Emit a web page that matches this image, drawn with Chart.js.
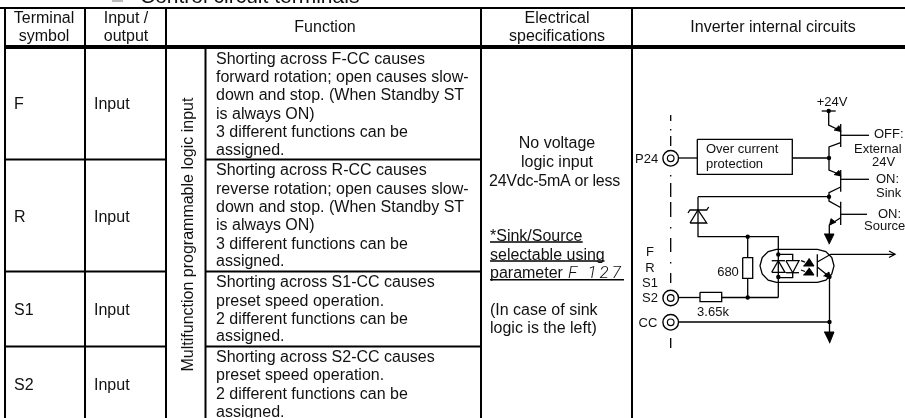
<!DOCTYPE html>
<html>
<head>
<meta charset="utf-8">
<title>Control circuit terminals</title>
<script src="https://cdn.jsdelivr.net/npm/chart.js@4/dist/chart.umd.min.js"></script>
<style>
  html, body { margin: 0; padding: 0; background: #fff; overflow: hidden; }
  canvas { display: block; }
</style>
</head>
<body>
<canvas id="chart" width="905" height="418"></canvas>
<script>
// table text
const headerLines = ['Terminal', 'symbol', 'Input /', 'output', 'Function', 'Electrical', 'specifications', 'Inverter internal circuits'];
const headerX = [44, 44, 126, 126, 325, 557, 557, 773];
const headerY = [23, 41, 23, 41, 32, 23, 41, 32];

const terminalSymbols = ['F', 'R', 'S1', 'S2'];
const directions = ['Input', 'Input', 'Input', 'Input'];
const rowBaselines = [109, 222, 315, 390];

const functionLines = [
    'Shorting across F-CC causes', 'forward rotation; open causes slow-', 'down and stop. (When Standby ST', 'is always ON)', '3 different functions can be', 'assigned.',
    'Shorting across R-CC causes', 'reverse rotation; open causes slow-', 'down and stop. (When Standby ST', 'is always ON)', '3 different functions can be', 'assigned.',
    'Shorting across S1-CC causes', 'preset speed operation.', '2 different functions can be', 'assigned.',
    'Shorting across S2-CC causes', 'preset speed operation.', '2 different functions can be', 'assigned.'
];
const functionBaselines = [64, 82, 100, 118.5, 137, 155, 175, 194, 212, 230, 249, 266, 287, 306, 324, 341, 362, 380, 399, 417];

const specCentered = ['No voltage', 'logic input', '24Vdc-5mA or less'];
const specCenteredX = [557, 557, 554.5];
const specCenteredY = [148, 167, 186];
const specLeft = ['*Sink/Source', 'selectable using', 'parameter', '(In case of sink', 'logic is the left)'];
const specLeftY = [241, 260, 278, 315, 333];

// circuit text
const circuitLabels = ['+24V', 'Over current', 'protection', 'OFF:', 'External', '24V', 'ON:', 'Sink', 'ON:', 'Source', 'P24', 'F', 'R', 'S1', 'S2', 'CC', '680', '3.65k'];
const circuitLabelX = [832, 706, 706, 874, 854, 872, 876, 876, 878, 864, 635, 650, 650, 650, 650, 648, 728, 713];
const circuitLabelY = [106, 153, 168, 138, 153, 166, 183, 197, 218, 230, 163, 256, 272, 287, 302, 327, 276, 316];
const circuitLabelAlign = ['center', 'left', 'left', 'left', 'left', 'left', 'left', 'left', 'left', 'left', 'left', 'center', 'center', 'center', 'center', 'center', 'center', 'center'];

// table rules, [x1, y1, x2, y2]
const thinRules = [
    [0, 8, 905, 8], [5, 8, 5, 418], [85, 8, 85, 418], [166, 8, 166, 418], [205.5, 47, 205.5, 418],
    [481, 8, 481, 418], [632, 8, 632, 418],
    [5, 159.5, 166, 159.5], [205.5, 159.5, 481, 159.5],
    [5, 271.5, 166, 271.5], [205.5, 271.5, 481, 271.5],
    [5, 346.5, 166, 346.5], [205.5, 346.5, 481, 346.5]
];
const headerRule = [5, 47, 905, 47];
const underlines = [[490, 242, 582.7, 242], [490, 261, 604.5, 261], [490, 279.7, 624, 279.7]];

// circuit wires, each a list of x, y pairs
const wires = [
    [821.7, 111, 835.7, 111],
    [828.7, 111, 828.7, 125, 841, 131],
    [840.7, 124, 840.7, 147],
    [840.7, 135.3, 869, 135.3],
    [840.7, 142.7, 829, 147, 829, 170, 841, 175],
    [840.7, 170, 840.7, 191.7],
    [840.7, 179.3, 869, 179.3],
    [840.7, 187, 829, 192.7, 829, 201, 841, 207.7],
    [698, 196.7, 829, 196.7],
    [840.7, 201.7, 840.7, 225],
    [840.7, 214.3, 867, 214.3],
    [840.7, 217.7, 829.3, 225, 829.3, 234],
    [679, 158, 697.3, 158], [792.3, 158, 829, 158],
    [697.3, 139.3, 792.3, 139.3, 792.3, 174.3, 697.3, 174.3, 697.3, 139.3],
    [698, 196.7, 698, 236.7, 778.3, 236.7, 778.3, 297.5],
    [688, 213, 690, 210, 706.7, 210, 708.7, 207],
    [690, 223, 706.7, 223, 698, 210, 690, 223],
    [747.7, 236.7, 747.7, 257.7], [747.7, 278.3, 747.7, 297.5],
    [742.7, 257.7, 752.7, 257.7, 752.7, 278.3, 742.7, 278.3, 742.7, 257.7],
    [679, 297.5, 700, 297.5], [721.7, 297.5, 778.3, 297.5],
    [700, 292.3, 721.7, 292.3, 721.7, 301.7, 700, 301.7, 700, 292.3],
    [679, 322, 829.5, 322],
    [776.5, 249.3, 768.2, 251.5, 762.2, 257.5, 760, 265.8, 762.2, 274, 768.2, 280.1, 776.5, 282.3,
     817.5, 282.3, 825.8, 280.1, 831.8, 274, 834, 265.8, 831.8, 257.5, 825.8, 251.5, 817.5, 249.3, 776.5, 249.3],
    [771.7, 260.7, 785, 260.7], [771.7, 272.3, 785, 272.3, 778.3, 260.7, 771.7, 272.3],
    [786, 260.7, 799, 260.7, 792.7, 272.7, 786, 260.7], [786, 272.7, 799, 272.7],
    [778.3, 254.3, 792.7, 254.3, 792.7, 260.7], [778.3, 277.7, 792.7, 277.7, 792.7, 272.7],
    [801, 260.7, 805, 262.2], [801, 270, 805, 271.5],
    [817.3, 254.3, 817.3, 276.7],
    [817.3, 262, 830.7, 254.3, 895, 254.3],
    [889, 251, 895, 254.3, 889, 257.5],
    [817.3, 267, 829.5, 276.7, 829.5, 332]
];

// solid triangles: arrows and LEDs
const solids = [
    [841, 132, 839, 125.7, 834, 130.5],
    [841, 176.5, 839, 170.5, 834, 175],
    [829.5, 225.5, 831, 218.7, 836, 222.5],
    [824, 234, 834, 234, 829, 244.3],
    [824, 332, 834, 332, 829.5, 343.3],
    [809, 258.3, 814, 266, 803.3, 266],
    [809, 267.7, 814, 275, 803.3, 275],
    [830, 279, 829, 272, 823.5, 276]
];

const junctions = [[828.7, 111], [829, 158], [829, 196.7], [747.7, 236.7], [778.3, 254.5], [778.3, 277], [747.7, 297.5], [829.5, 276.7], [829.5, 322]];
const terminals = [[670.7, 158.3], [670.7, 298], [670.7, 322.3]];
// dash-dot centre line of the terminal block, [top, bottom] of each stroke
const centreLineX = 670.7;
const centreLineStrokes = [[115, 121], [129, 130.5], [136, 146], [175, 176.5], [183, 197], [202, 217], [227, 228.5], [238, 252], [262, 263.5], [273, 283], [338, 348]];

function toPoints(list) {
    const pts = [];
    for (let i = 0; i < list.length; i += 2) pts.push({ x: list[i], y: list[i + 1] });
    return pts;
}
const asPairs = list => list.map(p => ({ x: p[0], y: p[1] }));

function wireSet(list, width, order) {
    return { data: toPoints(list), showLine: true, borderColor: '#000', borderWidth: width, pointRadius: 0, fill: false, order: order, clip: false };
}

const datasets = [];
thinRules.forEach(r => datasets.push(wireSet(r, 2, 5)));
datasets.push(wireSet(headerRule, 4, 5));
underlines.forEach(r => datasets.push(wireSet(r, 1.5, 5)));
wires.forEach(w => datasets.push(wireSet(w, 1.3, 3)));
solids.forEach(s => datasets.push({
    data: toPoints(s), showLine: true, borderColor: '#000', backgroundColor: '#000', borderWidth: 1,
    pointRadius: 0, fill: 'shape', order: 2, clip: false
}));
centreLineStrokes.forEach(s => datasets.push(wireSet([centreLineX, s[0], centreLineX, s[1]], 1.3, 6)));
datasets.push({ data: asPairs(junctions), showLine: false, pointRadius: 2.2, pointBackgroundColor: '#000', pointBorderWidth: 0, order: 1, clip: false });
datasets.push({ data: asPairs(terminals), showLine: false, pointRadius: 7.8, pointBackgroundColor: '#fff', pointBorderColor: '#000', pointBorderWidth: 1.4, order: 1, clip: false });
datasets.push({ data: asPairs(terminals), showLine: false, pointRadius: 3.3, pointBackgroundColor: '#fff', pointBorderColor: '#000', pointBorderWidth: 1.2, order: 0, clip: false });

const textPlugin = {
    id: 'tableText',
    afterDatasetsDraw(chart) {
        const ctx = chart.ctx;
        const sx = chart.scales.x;
        const sy = chart.scales.y;
        const put = (text, x, y, font, align) => {
            ctx.font = font;
            ctx.textAlign = align || 'left';
            ctx.textBaseline = 'alphabetic';
            ctx.fillText(text, sx.getPixelForValue(x), sy.getPixelForValue(y));
        };
        const body = '16px "Liberation Sans"';
        const small = '13px "Liberation Sans"';
        ctx.save();
        ctx.fillStyle = '#111';

        put('Control circuit terminals', 140, 3, '21px "Liberation Sans"');
        headerLines.forEach((t, i) => put(t, headerX[i], headerY[i], body, 'center'));
        terminalSymbols.forEach((t, i) => put(t, 14, rowBaselines[i], body));
        directions.forEach((t, i) => put(t, 94, rowBaselines[i], body));
        functionLines.forEach((t, i) => put(t, 216, functionBaselines[i], body));
        specCentered.forEach((t, i) => {
            // the long line is set a little tighter in the original
            ctx.letterSpacing = i === 2 ? '-0.25px' : '0px';
            put(t, specCenteredX[i], specCenteredY[i], body, 'center');
        });
        ctx.letterSpacing = '0px';
        specLeft.forEach((t, i) => put(t, 490, specLeftY[i], body));
        circuitLabels.forEach((t, i) => put(t, circuitLabelX[i], circuitLabelY[i], small, circuitLabelAlign[i]));

        // parameter number, thin slanted like the panel display
        ctx.letterSpacing = '3px';
        put('F 127', 568, 278, 'italic 300 17px Roboto');
        ctx.letterSpacing = '0px';

        ctx.save();
        ctx.translate(sx.getPixelForValue(192.7), sy.getPixelForValue(234.5));
        ctx.rotate(-Math.PI / 2);
        ctx.font = body;
        ctx.textAlign = 'center';
        ctx.fillText('Multifunction programmable logic input', 0, 0);
        ctx.restore();

        // bottom edge of the heading bullet
        ctx.strokeStyle = '#777';
        ctx.lineWidth = 1;
        ctx.beginPath();
        ctx.moveTo(sx.getPixelForValue(112), sy.getPixelForValue(1));
        ctx.lineTo(sx.getPixelForValue(123), sy.getPixelForValue(1));
        ctx.stroke();
        ctx.restore();
    }
};

new Chart(document.getElementById('chart').getContext('2d'), {
    type: 'scatter',
    data: { datasets: datasets },
    options: {
        responsive: false,
        animation: false,
        layout: { padding: 0, autoPadding: false },
        plugins: { legend: { display: false }, tooltip: { enabled: false } },
        scales: {
            x: { type: 'linear', min: 0, max: 905, display: false },
            y: { type: 'linear', min: 0, max: 418, reverse: true, display: false }
        }
    },
    plugins: [textPlugin]
});
</script>
</body>
</html>
